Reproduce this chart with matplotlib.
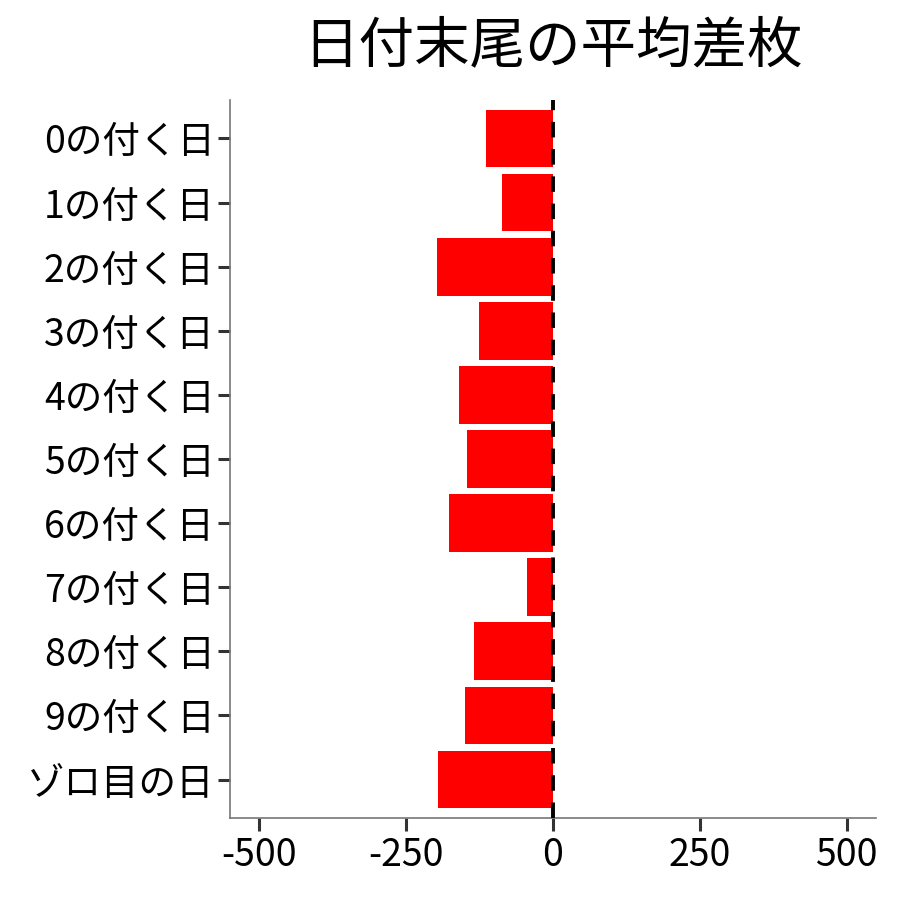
import numpy as np
import matplotlib.pyplot as plt

# data
categories = ["0の付く日", "1の付く日", "2の付く日", "3の付く日", "4の付く日",
              "5の付く日", "6の付く日", "7の付く日", "8の付く日", "9の付く日", "ゾロ目の日"]
avg_diff = [-114, -87, -197, -126, -160, -146, -177, -44, -134, -150, -196]
xticks = [-500, -250, 0, 250, 500]

plt.rcParams["font.family"] = ["Noto Sans CJK JP", "DejaVu Sans"]

fig = plt.figure(figsize=(9, 9), dpi=100)
ax = fig.add_axes([0.2556, 0.0911, 0.7178, 0.7978])

ypos = np.arange(len(categories))
ax.barh(ypos, avg_diff, height=0.9, color="#FF0000", zorder=2)
ax.axvline(0, color="black", linestyle=(0, (4, 3)), linewidth=2.8, zorder=3)

ax.set_yticks(ypos)
ax.set_yticklabels(categories, fontsize=27)
ax.set_ylim(len(categories) - 0.4, -0.6)
ax.set_xticks(xticks)
ax.set_xticklabels([str(v) for v in xticks], fontsize=27)
ax.set_xlim(-550, 550)

for s in ["top", "right"]:
    ax.spines[s].set_visible(False)
for s in ["left", "bottom"]:
    ax.spines[s].set_color("#777777")
    ax.spines[s].set_linewidth(1.2)
ax.tick_params(axis="both", length=9, width=2.2, color="#333333")
ax.tick_params(axis="y", pad=2)
ax.tick_params(axis="x", pad=4)

fig.text(0.6144, 0.948, "日付末尾の平均差枚", fontsize=40, ha="center", va="center")

fig.savefig("out.png", dpi=100)
